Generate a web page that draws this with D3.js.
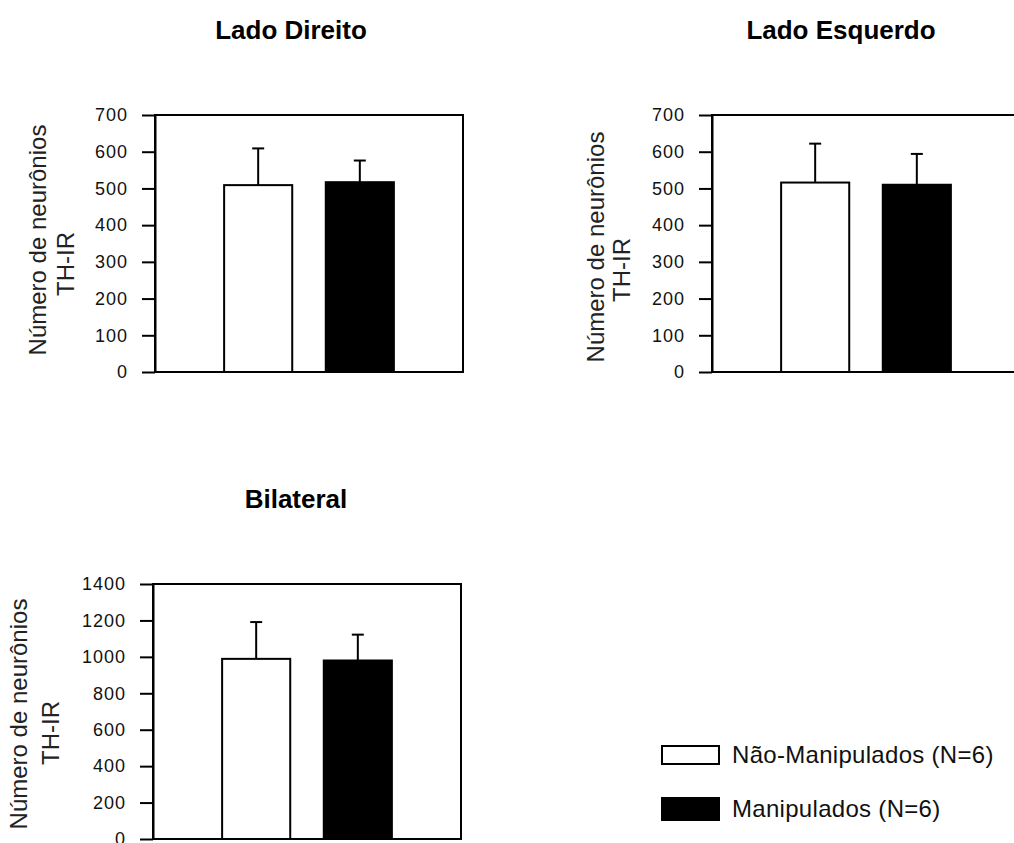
<!DOCTYPE html>
<html>
<head>
<meta charset="utf-8">
<script src="https://cdnjs.cloudflare.com/ajax/libs/d3/7.8.5/d3.min.js"></script>
<style>
  body { margin: 0; background: #fff; }
  svg { display: block; font-family: "Liberation Sans", Arial, sans-serif; }
</style>
</head>
<body>
<div id="chart"></div>
<script>
// groups shown in every panel
const groups = ["Não-Manipulados (N=6)", "Manipulados (N=6)"];
const groupFills = ["#ffffff", "#000000"];

const panelTitles = ["Lado Direito", "Lado Esquerdo", "Bilateral"];

// mean and upper error (SEM)
const meansDireito = [509, 517];
const errDireito = [100, 59];
const meansEsquerdo = [516, 510];
const errEsquerdo = [106, 84];
const meansBilateral = [989, 980];
const errBilateral = [202, 142];

const ticksLado = [0, 100, 200, 300, 400, 500, 600, 700];
const ticksBilateral = [0, 200, 400, 600, 800, 1000, 1200, 1400];

const yLabelLines = ["Número de neurônios", "TH-IR"];

const svg = d3.select('#chart')
    .append('svg')
    .attr('width', 1014)
    .attr('height', 843)
    .style('background-color', 'white');

// layout of each panel in pixels
const panels = [
    { title: panelTitles[0], means: meansDireito, errs: errDireito, ticks: ticksLado,
      left: 155, right: 463, top: 115, bottom: 372,
      titleX: 291, titleY: 39,
      lab1: [46, 240], lab2: [74, 264] },
    { title: panelTitles[1], means: meansEsquerdo, errs: errEsquerdo, ticks: ticksLado,
      left: 712, right: 1020, top: 115, bottom: 372,
      titleX: 841, titleY: 39,
      lab1: [604, 247], lab2: [630, 270] },
    { title: panelTitles[2], means: meansBilateral, errs: errBilateral, ticks: ticksBilateral,
      left: 153, right: 461, top: 584, bottom: 839,
      titleX: 296, titleY: 508,
      lab1: [27, 714], lab2: [59, 733] }
];

function drawPanel(p){
    const g = svg.append('g');

    const x = d3.scaleBand()
        .domain(groups)
        .range([p.left, p.right])
        .paddingInner(0.33)
        .paddingOuter(0.68);

    const y = d3.scaleLinear()
        .domain([0, d3.max(p.ticks)])
        .range([p.bottom, p.top]);

    // frame
    g.append('rect')
        .attr('x', p.left)
        .attr('y', p.top)
        .attr('width', p.right - p.left)
        .attr('height', p.bottom - p.top)
        .attr('fill', 'none')
        .attr('stroke', '#000')
        .attr('stroke-width', 2);

    const axis = g.append('g')
        .attr('transform', `translate(${p.left},0)`)
        .call(d3.axisLeft(y)
            .tickValues(p.ticks)
            .tickFormat(d3.format('d'))
            .tickSize(13)
            .tickPadding(14)
            .tickSizeOuter(0));
    axis.select('.domain').attr('stroke-width', 2);
    axis.selectAll('.tick line').attr('stroke-width', 2);
    axis.selectAll('.tick text')
        .attr('font-size', 18)
        .attr('letter-spacing', 1)
        .attr('font-family', '"Liberation Sans", Arial, sans-serif')
        .attr('fill', '#111');

    // bars
    g.selectAll('.bar')
        .data(p.means)
        .enter()
        .append('rect')
        .attr('class', 'bar')
        .attr('x', (d, i) => x(groups[i]))
        .attr('y', d => y(d))
        .attr('width', x.bandwidth())
        .attr('height', d => y(0) - y(d))
        .attr('fill', (d, i) => groupFills[i])
        .attr('stroke', '#000')
        .attr('stroke-width', 2);

    // error bars, upper only
    p.means.forEach((m, i) => {
        const cx = x(groups[i]) + x.bandwidth() / 2;
        g.append('line')
            .attr('x1', cx).attr('x2', cx)
            .attr('y1', y(m)).attr('y2', y(m + p.errs[i]))
            .attr('stroke', '#000').attr('stroke-width', 2);
        g.append('line')
            .attr('x1', cx - 6).attr('x2', cx + 6)
            .attr('y1', y(m + p.errs[i])).attr('y2', y(m + p.errs[i]))
            .attr('stroke', '#000').attr('stroke-width', 2);
    });

    g.append('text')
        .attr('x', p.titleX)
        .attr('y', p.titleY)
        .attr('text-anchor', 'middle')
        .attr('font-size', 26)
        .attr('font-weight', 'bold')
        .attr('fill', '#000')
        .text(p.title);

    [p.lab1, p.lab2].forEach((pos, i) => {
        g.append('text')
            .attr('transform', `translate(${pos[0]},${pos[1]}) rotate(-90)`)
            .attr('text-anchor', 'middle')
            .attr('font-size', 24)
            .attr('fill', '#222')
            .text(yLabelLines[i]);
    });
}

panels.forEach(drawPanel);

// legend
const legend = svg.append('g');
const legendY = [746, 798];
const legendH = [18, 22];
groups.forEach((name, i) => {
    legend.append('rect')
        .attr('x', 662)
        .attr('y', legendY[i])
        .attr('width', 57)
        .attr('height', legendH[i])
        .attr('fill', groupFills[i])
        .attr('stroke', '#000')
        .attr('stroke-width', 2);
    legend.append('text')
        .attr('x', 732)
        .attr('y', [763, 817][i])
        .attr('font-size', 24)
        .attr('letter-spacing', 0.3)
        .attr('fill', '#111')
        .text(name);
});
</script>
</body>
</html>
